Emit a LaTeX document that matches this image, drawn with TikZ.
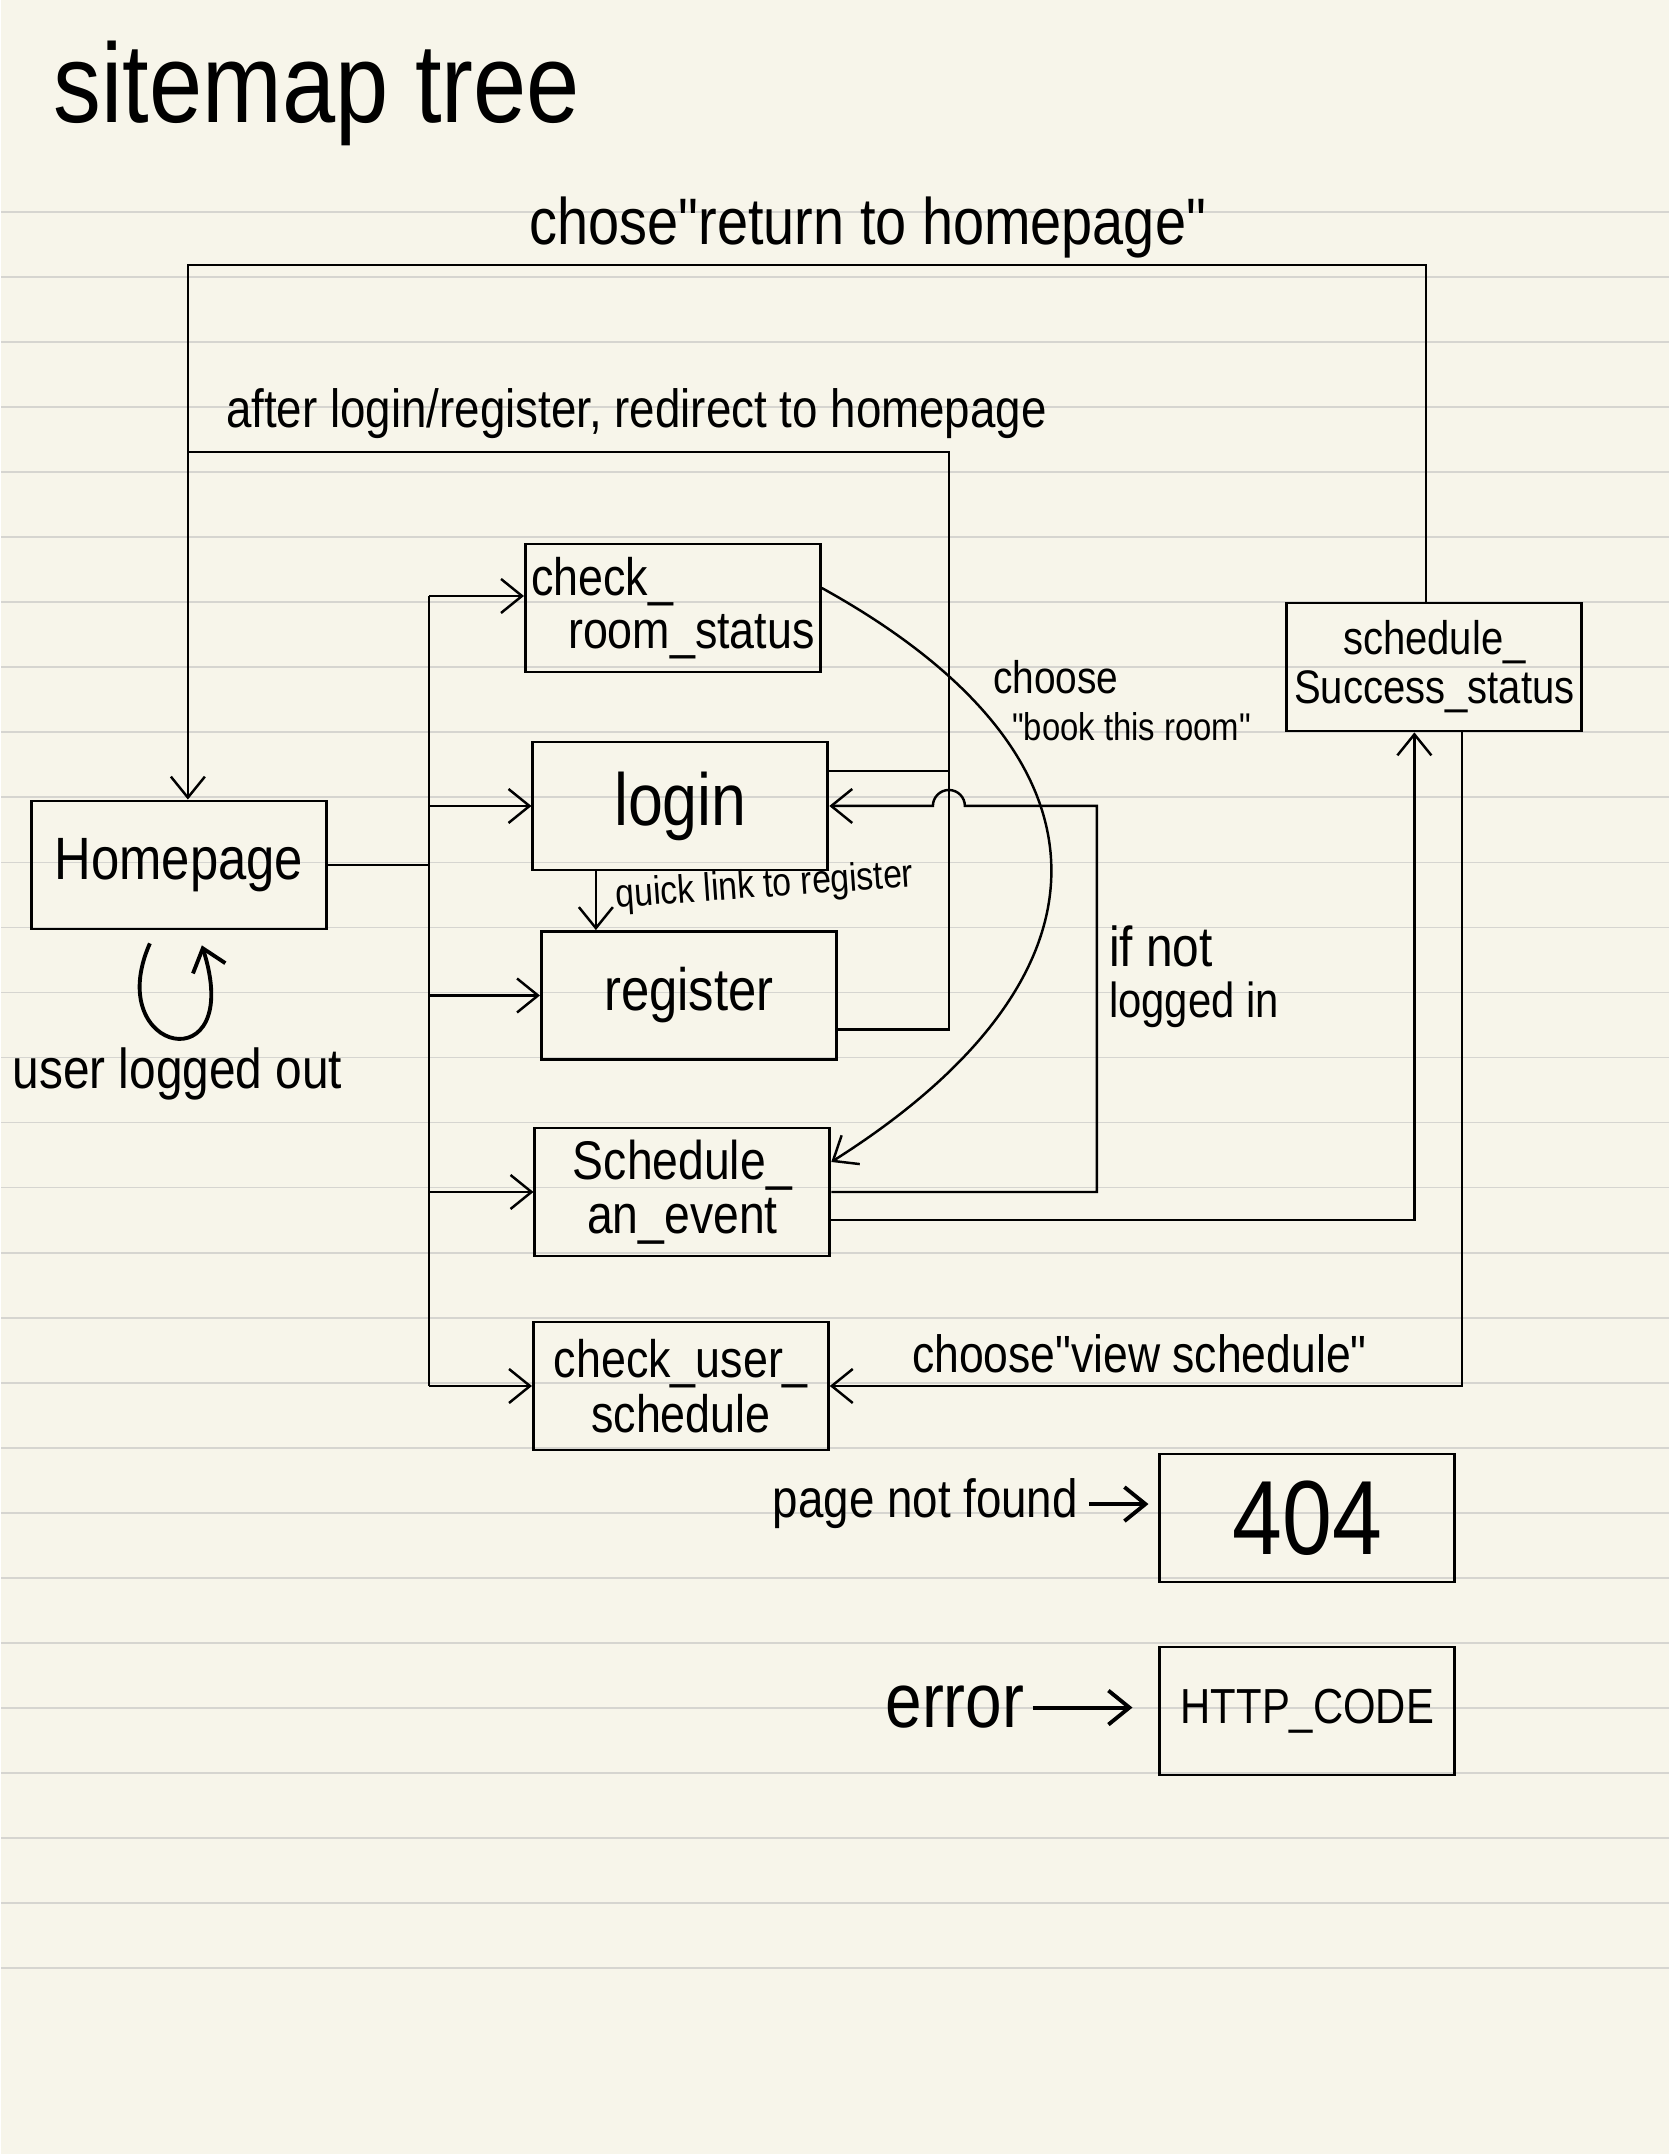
\documentclass[tikz,border=0pt]{standalone}
\usepackage{fontspec}
\newfontfamily\hand{Liberation Sans}[FakeStretch=0.85]
\usetikzlibrary{arrows.meta}
\definecolor{paper}{RGB}{247,245,234}
\definecolor{rule}{RGB}{214,213,208}
\newcommand{\fsz}[1]{\fontsize{#1}{#1}\selectfont}
\tikzset{
  pagebox/.style={draw,line width=0.8pt,minimum width=2.95cm,minimum height=1.28cm,
    inner sep=0pt,align=center,font=\hand\fsz{#1}},
  lbl/.style={inner sep=0pt,font=\hand\fsz{#1}},
}

\begin{document}
\begin{tikzpicture}[>={Straight Barb[length=2.1mm,width=3.4mm]},line width=0.7pt]
% lined paper
\fill[paper] (0,0) rectangle (16.68,21.54);
\foreach \k in {0,...,27}
  \draw[rule,line width=0.5pt] (0,19.42-0.6504*\k) -- (16.68,19.42-0.6504*\k);
\useasboundingbox (0,0) rectangle (16.68,21.54);

\node[lbl=32,anchor=base] (title) at (3.16,20.31) {sitemap tree};

% pages
\node[pagebox=17] (home) at (1.78,12.89) {Homepage};
\node[pagebox=15,align=left] (room) at (6.72,15.46) {check\_\\[0pt]\hspace*{0.37cm}room\_status};
\node[pagebox=21] (login) at (6.795,13.48) {login};
\node[pagebox=17] (register) at (6.88,11.585) {register};
\node[pagebox=15.5] (event) at (6.815,9.62) {Schedule\_\\[0pt]an\_event};
\node[pagebox=15] (usersched) at (6.80,7.68) {check\_user\_\\[0.5pt]schedule};
\node[pagebox=13.4] (success) at (14.335,14.87) {schedule\_\\[0.5pt]Success\_status};
\node[pagebox=30] (notfound) at (13.065,6.36) {404};
\node[pagebox=14] (httpcode) at (13.065,4.43) {HTTP\_CODE};

% menu from homepage
\coordinate (bustop) at (4.28,15.58);
\draw (home.east) -- (home.east -| bustop);
\draw (bustop) -- (bustop |- usersched.west);
\draw[->] (bustop) -- (bustop -| room.west);
\foreach \n in {login,register,event,usersched}
  \draw[->] (\n.west -| bustop) -- (\n.west);

% back to homepage
\coordinate (backtop) at (14.25,18.89);
\coordinate (backleft) at (1.87,18.89);
\draw[->] (success.north -| backtop) -- (backtop) -- (backleft) -- (home.north -| backleft);
\node[lbl=18.7,anchor=base] (backlbl) at (8.67,19.09) {chose"return to homepage"};

\coordinate (redir) at (9.48,17.02);
\draw ([yshift=-3.4mm]register.east) -| (redir) -- (redir -| backleft);
\draw ([yshift=3.5mm]login.east) -- ([yshift=3.5mm]login.east -| redir);
\node[lbl=15.3,anchor=base] (redirlbl) at (6.355,17.26) {after login/register, redirect to homepage};

% login -> register
\coordinate (qlx) at (5.95,0);
\draw[->] (login.south -| qlx) -- (register.north -| qlx);
\node[lbl=11.3,anchor=base,rotate=4] (qllbl) at (7.645,12.57) {quick link to register};

% booking a room
\draw[->] ([yshift=2mm]room.east) .. controls (11.30,13.95) and (11.20,11.75) .. ([yshift=3mm]event.east);
\node[lbl=13,anchor=base west] (bk1) at (9.91,14.60) {choose};
\node[lbl=11,anchor=base west] (bk2) at (10.10,14.13) {"book this room"};

% not logged in
\coordinate (notin) at (10.96,13.48);
\draw[->] (event.east) -| (notin) -- ([xshift=1.6mm]notin -| redir)
  arc[start angle=0,end angle=180,radius=1.6mm] -- (login.east);
\node[lbl=16,anchor=base west] (nl1) at (11.07,11.875) {if not};
\node[lbl=14,anchor=base west] (nl2) at (11.07,11.36) {logged in};

\draw[->] ([yshift=-2.8mm]event.east) -| ([xshift=-2mm]success.south);
\draw[->] ([xshift=2.75mm]success.south) |- (usersched.east);
\node[lbl=14.9,anchor=base] (viewlbl) at (11.385,7.81) {choose"view schedule"};

% logged out
\draw[->,line width=1.1pt] ([shift={(-0.29,-0.13)}]home.south) .. controls (1.0,11.0) and (2.45,10.7) .. ([shift={(0.23,-0.15)}]home.south);
\node[lbl=16,anchor=base] (outlbl) at (1.765,10.65) {user logged out};

% errors
\node[lbl=15.3,anchor=base] (pnf) at (9.245,6.36) {page not found};
\draw[->,line width=1.1pt,shorten <=1mm,shorten >=1mm] (pnf.east) -- (pnf.east -| notfound.west);
\node[lbl=22,anchor=base] (err) at (9.54,4.26) {error};
\draw[->,line width=1.1pt,shorten <=0.7mm,shorten >=2.6mm] (err.east) -- (err.east -| httpcode.west);
\end{tikzpicture}
\end{document}
